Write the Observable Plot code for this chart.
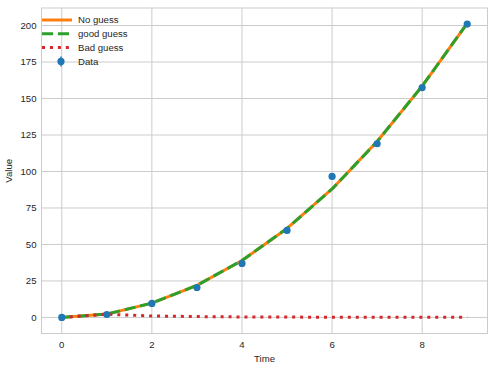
<!DOCTYPE html>
<html><head><meta charset="utf-8">
<script src="https://cdn.jsdelivr.net/npm/d3@7"></script>
<script src="https://cdn.jsdelivr.net/npm/@observablehq/plot@0.6"></script>
<style>
html,body{margin:0;padding:0;background:#fff;}
#chart{width:494px;height:366px;}
</style></head>
<body><div id="chart"></div>
<script>
const times = [0,1,2,3,4,5,6,7,8,9];
const dataValues = [0, 2, 9.6, 20.5, 37, 59.6, 96.6, 119, 157.5, 201];
const noGuess = [0, 2.3, 9.8, 22, 39, 61, 88, 120.5, 158.5, 201.5];
const goodGuess = [0, 2.3, 9.8, 22, 39, 61, 88, 120.5, 158.5, 201.5];
const badGuess = [0, 2.2, 1.0, 0.6, 0.35, 0.25, 0.15, 0.1, 0.08, 0.05];
const xTicks = [0,2,4,6,8];
const yTicks = [0,25,50,75,100,125,150,175,200];
const legendItems = [
  {label:"No guess", color:"#ff7f0e", kind:"solid"},
  {label:"good guess", color:"#2ca02c", kind:"dashed"},
  {label:"Bad guess", color:"#d62728", kind:"dotted"},
  {label:"Data", color:"#1f77b4", kind:"marker"}
];

const rows = (vals) => times.map((t,i)=>({t, v: vals[i]}));
const font = "'Liberation Sans', Arial, sans-serif";

const chart = Plot.plot({
  width: 494, height: 366,
  marginLeft: 41, marginRight: 7, marginTop: 7.5, marginBottom: 33,
  style: {fontFamily: font, fontSize: "9.6px", color: "#262626", background: "#fff"},
  x: {domain: [-0.45, 9.45]},
  y: {domain: [-11, 212]},
  marks: [
    Plot.gridX(xTicks, {stroke: "#cccccc", strokeOpacity: 1, strokeWidth: 1}),
    Plot.gridY(yTicks, {stroke: "#cccccc", strokeOpacity: 1, strokeWidth: 1}),
    Plot.frame({stroke: "#cccccc", strokeWidth: 1}),
    Plot.axisX(xTicks, {tickSize: 0, tickPadding: 8, label: "Time", labelAnchor: "center", labelArrow: "none", labelOffset: 28, fill: "#262626"}),
    Plot.axisY(yTicks, {tickSize: 0, tickPadding: 5, label: "Value", labelAnchor: "center", labelArrow: "none", labelOffset: 36, fill: "#262626"}),
    Plot.line(rows(noGuess), {x: "t", y: "v", stroke: "#ff7f0e", strokeWidth: 3, strokeLinecap: "square"}),
    Plot.line(rows(goodGuess), {x: "t", y: "v", stroke: "#2ca02c", strokeWidth: 3, strokeDasharray: "11.1,4.8", strokeLinecap: "butt"}),
    Plot.line(rows(badGuess), {x: "t", y: "v", stroke: "#d62728", strokeWidth: 3, strokeDasharray: "3,4.95", strokeLinecap: "butt"}),
    Plot.dot(rows(dataValues), {x: "t", y: "v", r: 3.6, fill: "#1f77b4", stroke: "none"})
  ]
});

const svg = d3.select(chart);
const lg = svg.append("g").attr("font-family", font).attr("font-size", "9.6px").attr("text-anchor", "start");
legendItems.forEach((d, i) => {
  const y = 20 + i * 13.8;
  const g = lg.append("g").attr("transform", `translate(0,${y})`);
  if (d.kind === "marker") {
    g.append("line").attr("x1", 61).attr("x2", 61).attr("y1", -5).attr("y2", 5).attr("stroke", d.color).attr("stroke-width", 1.5);
    g.append("circle").attr("cx", 61).attr("cy", 0).attr("r", 3.6).attr("fill", d.color);
  } else {
    const ln = g.append("line").attr("x1", 42).attr("x2", 72).attr("y1", 0).attr("y2", 0)
      .attr("stroke", d.color).attr("stroke-width", 3).attr("stroke-linecap", "butt");
    if (d.kind === "dashed") ln.attr("stroke-dasharray", "11.1,4.8");
    if (d.kind === "dotted") ln.attr("stroke-dasharray", "3,4.95");
  }
  g.append("text").attr("x", 78).attr("y", 0).attr("dy", "0.35em").attr("fill", "#262626").text(d.label);
});

document.getElementById("chart").appendChild(chart);
</script>
</body></html>
